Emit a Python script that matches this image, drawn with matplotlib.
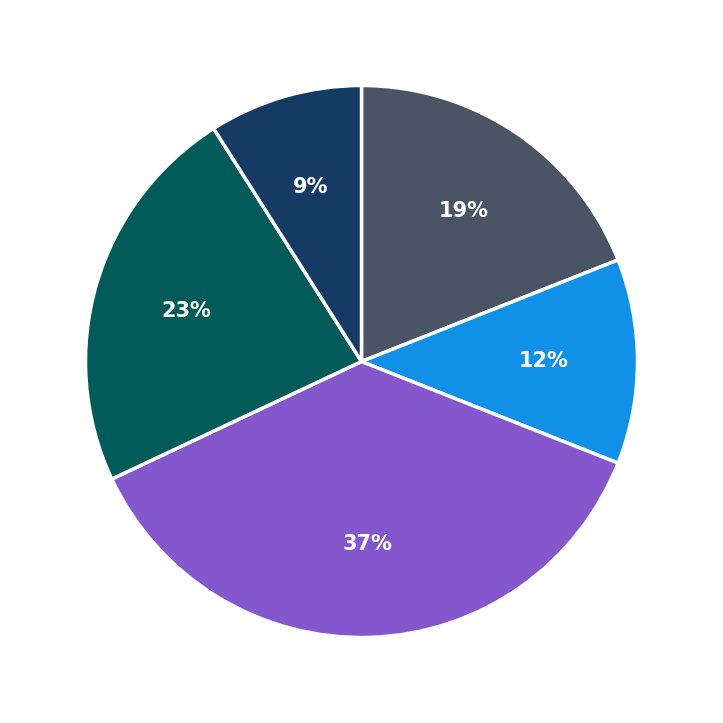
import matplotlib
matplotlib.use("Agg")
import matplotlib.pyplot as plt

labels = ["A", "B", "C", "D", "E"]
values = [19, 12, 37, 23, 9]
colors = ["#4a5464", "#1190e8", "#8557cc", "#025b58", "#153a64"]

fig = plt.figure(figsize=(7.23, 7.23), dpi=100)
w = 552 / 723
ax = fig.add_axes([0.5 - w / 2, 0.5 - w / 2, w, w])
wedges, texts, autotexts = ax.pie(
    values, colors=colors, startangle=90, counterclock=False,
    autopct="%1.0f%%", pctdistance=0.66,
    wedgeprops=dict(edgecolor="white", linewidth=2.5),
    textprops=dict(color="white", fontsize=15, fontweight="bold"),
)
ax.set_xlim(-1, 1)
ax.set_ylim(-1, 1)
ax.set_aspect("equal")
fig.savefig("out.png", dpi=100)
